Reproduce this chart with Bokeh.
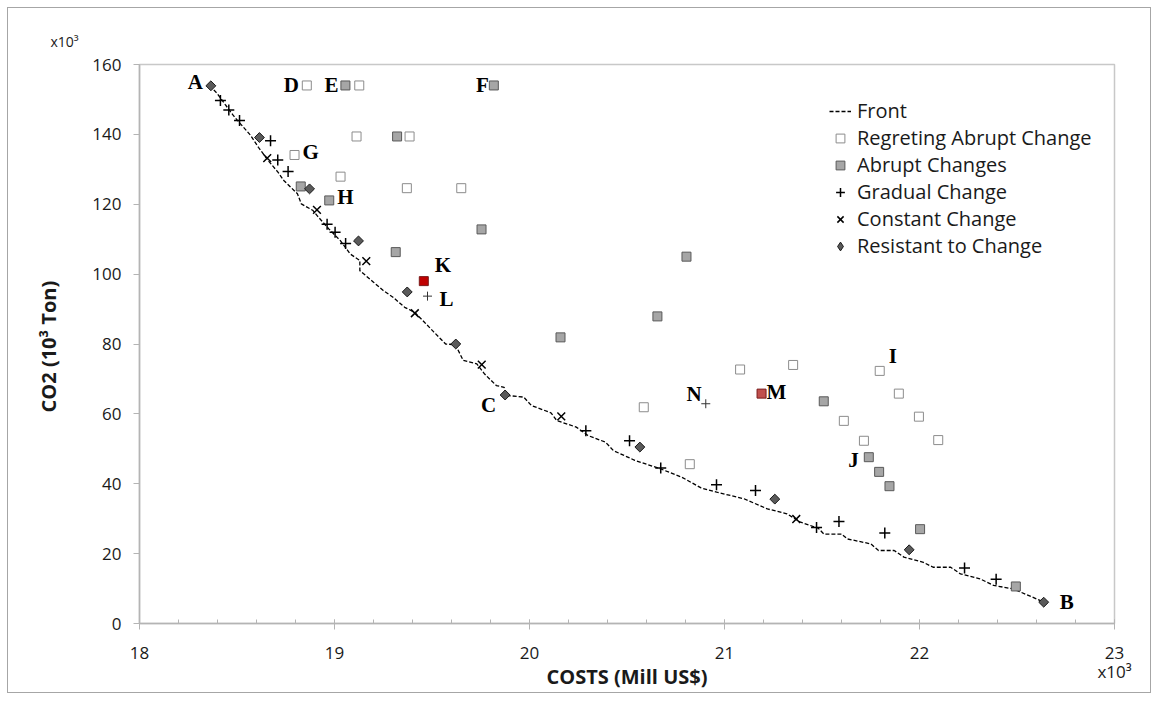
import math
from bokeh.plotting import figure
from bokeh.layouts import column
from bokeh.models import (ColumnDataSource, FixedTicker, Legend, LegendItem, Range1d)
from bokeh.core.properties import value
from bokeh.embed import file_html
from bokeh.resources import INLINE

# ---------------- data (costs in 10^3 Mill US$, CO2 in 10^3 x 10^3 Ton) ----------------
front_cost = [18.36, 18.40, 18.44, 18.48, 18.51, 18.57, 18.61, 18.66, 18.71, 18.74,
              18.81, 18.83, 18.89, 18.91, 18.97, 19.03, 19.08, 19.13, 19.13, 19.20,
              19.25, 19.30, 19.36, 19.41, 19.46, 19.51, 19.57, 19.62, 19.66, 19.73,
              19.77, 19.83, 19.87, 19.88, 19.97, 20.01, 20.11, 20.14, 20.24, 20.30,
              20.39, 20.43, 20.54, 20.67, 20.78, 20.88, 20.96, 21.10, 21.22, 21.32,
              21.39, 21.48, 21.51, 21.60, 21.63, 21.75, 21.79, 21.87, 21.92, 22.02,
              22.07, 22.16, 22.21, 22.31, 22.38, 22.48, 22.64]
front_co2 = [154.0, 151.6, 148.5, 145.5, 143.5, 139.7, 136.3, 132.5, 129.2, 126.8,
             123.0, 120.1, 118.2, 116.8, 113.0, 109.6, 105.8, 103.9, 101.0, 97.7,
             95.3, 93.4, 90.5, 89.1, 86.3, 83.4, 80.0, 79.8, 75.3, 74.3,
             71.4, 68.1, 67.6, 65.3, 64.8, 62.4, 60.3, 58.1, 56.2, 53.8,
             51.9, 49.5, 46.7, 44.3, 41.9, 38.8, 37.6, 35.7, 32.8, 31.4,
             29.0, 27.3, 25.6, 25.6, 24.2, 22.8, 20.9, 20.9, 19.0, 17.5,
             16.1, 16.1, 14.2, 12.8, 10.9, 9.9, 6.1]

regret_cost = [18.858, 19.127, 19.113, 19.385, 18.795, 19.031, 19.371, 19.650, 20.586,
               20.822, 21.080, 21.352, 21.796, 21.894, 21.997, 22.096, 21.612, 21.715]
regret_co2 = [154.0, 154.0, 139.4, 139.4, 134.1, 127.9, 124.6, 124.6, 61.9,
              45.6, 72.7, 74.0, 72.3, 65.8, 59.2, 52.5, 58.0, 52.3]

abrupt_cost = [19.056, 19.817, 19.321, 18.827, 18.973, 19.754, 19.314, 20.159, 20.656,
               20.805, 21.509, 21.740, 21.793, 21.846, 22.003, 22.494]
abrupt_co2 = [154.0, 154.0, 139.4, 125.1, 121.1, 112.8, 106.3, 81.9, 87.9,
              105.0, 63.6, 47.6, 43.4, 39.3, 27.0, 10.6]

gradual_cost = [18.415, 18.458, 18.513, 18.672, 18.709, 18.762, 18.962, 19.003, 19.057,
                20.289, 20.513, 20.673, 20.959, 21.159, 21.472, 21.587, 21.822, 22.231, 22.393]
gradual_co2 = [149.7, 147.0, 144.0, 138.2, 132.7, 129.4, 114.3, 112.0, 108.8,
               55.2, 52.3, 44.5, 39.7, 38.1, 27.5, 29.2, 25.9, 15.9, 12.7]

constant_cost = [18.655, 18.910, 19.163, 19.412, 19.755, 20.163, 21.368]
constant_co2 = [133.2, 118.4, 103.7, 88.8, 74.1, 59.3, 29.9]

resistant_cost = [18.366, 18.615, 18.872, 19.123, 19.373, 19.622, 19.875, 20.566, 21.258, 21.947, 22.637]
resistant_co2 = [153.9, 139.1, 124.4, 109.5, 94.9, 80.0, 65.4, 50.5, 35.6, 21.1, 6.1]

# highlighted solutions
highlight_names = ["K", "M"]
highlight_cost = [19.458, 21.190]
highlight_co2 = [98.0, 65.8]
highlight_colors = ["#c00000", "#c0504d"]

single_names = ["L", "N"]
single_cost = [19.477, 20.904]
single_co2 = [93.7, 62.9]

# letter annotations: (letter, cost, co2, align, dx px, dy px)
letters = ["A", "B", "C", "D", "E", "F", "G", "H", "I", "J", "K", "L", "M", "N"]
letter_cost = [18.366, 22.637, 19.875, 18.858, 19.056, 19.817, 18.795, 18.973, 21.796, 21.740, 19.458, 19.477, 21.190, 20.904]
letter_co2 = [153.9, 6.1, 65.4, 154.0, 154.0, 154.0, 134.1, 121.1, 72.3, 47.6, 98.0, 93.7, 65.8, 62.9]
letter_align = ["right", "left", "right", "right", "right", "right", "left", "left", "left", "right", "left", "left", "left", "right"]
letter_dx = [-8, 16, -9, -8, -7, -5, 8, 8, 9, -10, 11, 12, 5, -4]
letter_dy = [-4, 0, 10, 0, 0, 0, -3, -3, -15, 3, -16, 3, -2, -10]

x_ticks = [18, 19, 20, 21, 22, 23]
x_minor = [18 + 0.2 * i for i in range(26)]
y_ticks = [0, 20, 40, 60, 80, 100, 120, 140, 160]

x_title = "COSTS (Mill US$)"
y_title = "CO2  (10³ Ton)"
multiplier = "x10³"

FONT = "Open Sans"
SERIF = "Liberation Serif"
X0, X1, Y0, Y1 = 18, 23, 0, 160

p = figure(width=1158, height=700, output_backend="svg", toolbar_location=None,
           x_range=Range1d(X0, X1), y_range=Range1d(Y0, Y1),
           min_border_left=139, min_border_right=44, min_border_top=64, min_border_bottom=77)
p.grid.visible = False
p.outline_line_color = "#c8c8c8"
p.outline_line_width = 1.5
p.background_fill_color = "white"
p.border_fill_color = None

# top-left multiplier as the plot title
p.title.text = multiplier
p.title.align = "left"
p.title.offset = -89
p.title.standoff = 27
p.title.text_font = FONT
p.title.text_font_size = "14px"
p.title.text_font_style = "normal"
p.title.text_color = "#1a1a1a"

for ax in (p.xaxis[0], p.yaxis[0]):
    ax.axis_line_color = "#b4b4b4"
    ax.axis_line_width = 1.5
    ax.major_tick_line_color = "#b4b4b4"
    ax.minor_tick_line_color = "#b4b4b4"
    ax.major_label_text_font = FONT
    ax.major_label_text_font_size = "17px"
    ax.major_label_text_color = "#1a1a1a"
    ax.axis_label_text_font = FONT
    ax.axis_label_text_font_size = "20px"
    ax.axis_label_text_font_style = "bold"
    ax.axis_label_text_color = "#1a1a1a"

p.xaxis.ticker = FixedTicker(ticks=x_ticks, minor_ticks=x_minor)
# bottom-right multiplier sits under the last tick label
p.xaxis.major_label_overrides = {23: "23\n" + multiplier, "23": "23\n" + multiplier}
p.xaxis.major_label_text_line_height = 0.85
p.xaxis.major_tick_out = 6
p.xaxis.major_tick_in = 4
p.xaxis.minor_tick_in = 4
p.xaxis.minor_tick_out = 0
p.xaxis.major_label_standoff = 11
p.xaxis.axis_label = x_title
p.xaxis.axis_label_standoff = -23

p.yaxis.ticker = FixedTicker(ticks=y_ticks, minor_ticks=[])
p.yaxis.major_tick_out = 6
p.yaxis.major_tick_in = 0
p.yaxis.major_label_standoff = 12
p.yaxis.axis_label = y_title
p.yaxis.axis_label_standoff = 27

# front
r_front = p.line(front_cost, front_co2, line_color="black", line_width=1.3, line_dash="4 2")

r_regret = p.scatter(regret_cost, regret_co2, marker="square", size=9,
                     fill_color="white", line_color="#8c8c8c", line_width=1)
r_abrupt = p.scatter(abrupt_cost, abrupt_co2, marker="square", size=9,
                     fill_color="#a6a6a6", line_color="#595959", line_width=1)
r_grad = p.scatter(gradual_cost, gradual_co2, marker="cross", size=11,
                   line_color="black", line_width=1.5)
r_const = p.scatter(constant_cost, constant_co2, marker="x", size=11,
                    line_color="black", line_width=1.5)
p.scatter(resistant_cost, resistant_co2, marker="square", size=7, angle=math.pi / 4,
          fill_color="#5a5a5a", line_color="#1a1a1a", line_width=1)
# legend-only proxy for the diamond marker (legend ignores marker angle)
r_res = p.scatter([float("nan")], [float("nan")], marker="diamond",
                  fill_color="#5a5a5a", line_color="#1a1a1a", line_width=1)

hl_src = ColumnDataSource(dict(x=highlight_cost, y=highlight_co2, c=highlight_colors, n=highlight_names))
p.scatter("x", "y", source=hl_src, marker="square", size=9, fill_color="c", line_color="#7a1a1a", line_width=1)
p.scatter(single_cost, single_co2, marker="cross", size=9, line_color="#333333", line_width=1)

# letter labels
for side in ("left", "right"):
    idx = [i for i, a in enumerate(letter_align) if a == side]
    src = ColumnDataSource(dict(x=[letter_cost[i] for i in idx], y=[letter_co2[i] for i in idx],
                                t=[letters[i] for i in idx], dx=[letter_dx[i] for i in idx],
                                dy=[letter_dy[i] for i in idx]))
    p.text("x", "y", text="t", source=src, x_offset="dx", y_offset="dy",
           text_align=side, text_baseline="middle", text_font=value(SERIF),
           text_font_style="bold", text_font_size="21px", text_color="black")

legend = Legend(items=[
    LegendItem(label="Front", renderers=[r_front]),
    LegendItem(label="Regreting Abrupt Change", renderers=[r_regret]),
    LegendItem(label="Abrupt Changes", renderers=[r_abrupt]),
    LegendItem(label="Gradual Change", renderers=[r_grad]),
    LegendItem(label="Constant Change", renderers=[r_const]),
    LegendItem(label="Resistant to Change", renderers=[r_res]),
], location=(690, 364))
legend.border_line_color = None
legend.background_fill_alpha = 0
legend.padding = 0
legend.margin = 0
legend.spacing = -1
legend.label_height = 26
legend.glyph_height = 26
legend.glyph_width = 22
legend.label_standoff = 6
legend.label_text_font = FONT
legend.label_text_font_size = "20px"
legend.label_text_color = "#1a1a1a"
p.add_layout(legend, "center")

page = column(p, styles={"outline": "1px solid #a6a6a6", "outline-offset": "-8px",
                         "background-color": "white"})

open("out.html", "w").write(file_html(page, INLINE))
